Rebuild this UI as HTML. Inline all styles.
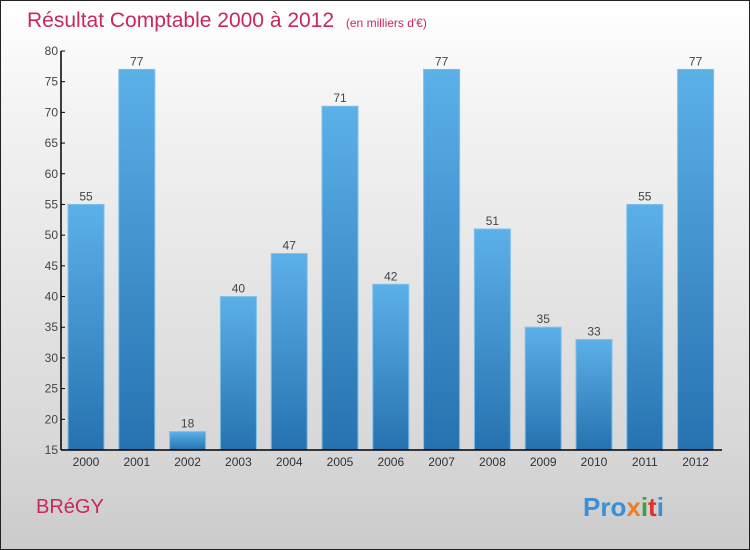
<!DOCTYPE html>
<html><head><meta charset="utf-8"><style>
body{margin:0;width:750px;height:550px;overflow:hidden;font-family:"Liberation Sans",sans-serif}
#wrap{position:absolute;left:0;top:0;width:748px;height:548px;border:1px solid #222;background:linear-gradient(#fff,#f3f3f3 20%,#d8d8d8 80%,#cbcbcb)}
</style></head><body>
<div id="wrap">
<svg width="750" height="550" style="position:absolute;left:-1px;top:-1px">
<defs><linearGradient id="bg" x1="0" y1="0" x2="0" y2="1"><stop offset="0" stop-color="#5cb0e8"/><stop offset="1" stop-color="#2672b0"/></linearGradient></defs>
<text x="27" y="27" font-size="21" fill="#c8285c">Résultat Comptable 2000 à 2012 <tspan font-size="12" dx="6">(en milliers d'€)</tspan></text>
<g id="plot"></g>
<text x="36" y="513" font-size="20" fill="#c8285c">BRéGY</text>
<text x="583" y="516" font-size="26" font-weight="bold"><tspan fill="#3a8fd8">Pro</tspan><tspan fill="#e8802a">x</tspan><tspan fill="#3aa040">i</tspan><tspan fill="#e03030">t</tspan><tspan fill="#3a8fd8">i</tspan></text>
</svg></div>
<script>
const categories=["2000","2001","2002","2003","2004","2005","2006","2007","2008","2009","2010","2011","2012"];
const values=[55,77,18,40,47,71,42,77,51,35,33,55,77];
const yTicks=[15,20,25,30,35,40,45,50,55,60,65,70,75,80];
const NS="http://www.w3.org/2000/svg";
const g=document.getElementById('plot');
const x0=61,y0=450,yTop=51,yMin=15,yMax=80,step=50.8,bw=36;
const y=v=>y0-(v-yMin)/(yMax-yMin)*(y0-yTop);
const xc=i=>86+i*step;
function mk(t,a){const e=document.createElementNS(NS,t);for(const k in a)e.setAttribute(k,a[k]);g.appendChild(e);return e;}
categories.forEach((c,i)=>{
 const r=mk('rect',{x:xc(i)-bw/2,y:y(values[i]),width:bw,height:y0-y(values[i]),fill:'url(#bg)',stroke:'#7ec0ee','stroke-width':1});
 
 
 const t=mk('text',{x:xc(i),y:y(values[i])-4,'font-size':12,fill:'#444','text-anchor':'middle'});t.textContent=values[i];
 
 
 const l=mk('text',{x:xc(i),y:466,'font-size':12,fill:'#333','text-anchor':'middle'});l.textContent=c;
 
 
});
yTicks.forEach(v=>{
 const tk=mk('line',{x1:x0,x2:x0+4,y1:y(v),y2:y(v),stroke:'#000'});
 
 
 const t=mk('text',{x:x0-3,y:y(v)+4,'font-size':12,fill:'#444','text-anchor':'end'});t.textContent=v;
 
 
});
const ya=mk('line',{x1:x0,x2:x0,y1:yTop,y2:y0,stroke:'#000','stroke-width':1.5});


const xa=mk('line',{x1:x0,x2:722,y1:y0,y2:y0,stroke:'#000','stroke-width':1.5});


</script>
</body></html>
